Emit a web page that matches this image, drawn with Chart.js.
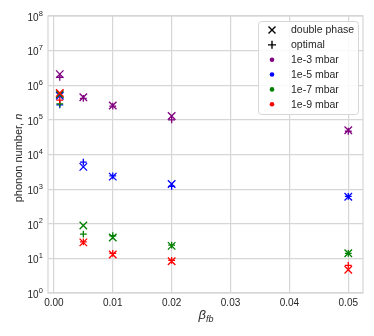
<!DOCTYPE html>
<html>
<head>
<meta charset="utf-8">
<script src="https://cdn.jsdelivr.net/npm/chart.js@4/dist/chart.umd.min.js"></script>
<style>
  html, body { margin: 0; padding: 0; background: #fff; }
  #wrap { width: 374px; height: 336px; }
</style>
</head>
<body>
<div id="wrap"><canvas id="chart" width="374" height="336"></canvas></div>
<script>
// feedback gain values on the x axis
const betas = [0.001, 0.005, 0.01, 0.02, 0.05];

// pressures and their colours
const pressures = ["1e-3 mbar", "1e-5 mbar", "1e-7 mbar", "1e-9 mbar"];
const colors = ["#800080", "#0000ff", "#008000", "#ff0000"];

// phonon numbers, "double phase" (x) and "optimal" (+)
const dp1e3 = [2.1e6, 4.5e5, 2.6e5, 1.3e5, 5.0e4];
const opt1e3 = [1.7e6, 4.2e5, 2.5e5, 1.0e5, 4.7e4];
const dp1e5 = [5.0e5, 4.4e3, 2.3e3, 1.4e3, 600];
const opt1e5 = [2.7e5, 6.0e3, 2.4e3, 1.2e3, 620];
const dp1e7 = [5.5e5, 89, 40, 23, 14];
const opt1e7 = [2.9e5, 50, 45, 24, 14];
const dp1e9 = [6.0e5, 29, 13, 8.3, 4.7];
const opt1e9 = [3.7e5, 30, 14, 8.7, 6.3];

const xTicks = [0, 0.01, 0.02, 0.03, 0.04, 0.05];
const yTicks = [1, 10, 1e2, 1e3, 1e4, 1e5, 1e6, 1e7, 1e8];
const markerLabels = ["double phase", "optimal"];

const FONT = "'Liberation Sans', Arial, sans-serif";
const TEXT = "#262626";
const GRID = "#d6d6d6";

const series = [
  [dp1e3, opt1e3],
  [dp1e5, opt1e5],
  [dp1e7, opt1e7],
  [dp1e9, opt1e9],
];

const datasets = [];
series.forEach(function (pair, i) {
  pair.forEach(function (vals, k) {
    datasets.push({
      label: pressures[i] + " " + markerLabels[k],
      data: betas.map((b, j) => ({ x: b, y: vals[j] })),
      pointStyle: k === 0 ? "crossRot" : "cross",
      pointRadius: k === 0 ? 5.3 : 3.4,
      pointHoverRadius: k === 0 ? 5.3 : 3.4,
      borderColor: colors[i],
      backgroundColor: colors[i],
      pointBorderWidth: 1.3,
      showLine: false,
      order: 10 - i * 2 - k,
    });
  });
});

// plot border, y tick labels, axis titles and the legend inside the plot
const decorPlugin = {
  id: "decor",
  beforeDatasetsDraw(chart) {
    const a = chart.chartArea;
    const ctx = chart.ctx;
    ctx.save();
    ctx.strokeStyle = GRID;
    ctx.lineWidth = 1.2;
    ctx.strokeRect(a.left, a.top, a.right - a.left, a.bottom - a.top);
    ctx.restore();
  },
  afterDraw(chart) {
    const ctx = chart.ctx;
    const ys = chart.scales.y;
    ctx.save();
    ctx.fillStyle = TEXT;

    // y tick labels as 10 with a raised exponent
    ctx.textBaseline = "middle";
    yTicks.forEach(function (v) {
      const py = ys.getPixelForValue(v);
      ctx.font = "10px " + FONT;
      ctx.textAlign = "right";
      ctx.fillText("10", 38.5, py + 2);
      ctx.font = "7.5px " + FONT;
      ctx.textAlign = "left";
      ctx.fillText(String(Math.round(Math.log10(v))), 38.8, py - 2.5);
    });

    // x title: beta_fb
    ctx.textBaseline = "alphabetic";
    ctx.textAlign = "left";
    ctx.font = "italic 13px " + FONT;
    const bw = ctx.measureText("\u03b2").width;
    ctx.font = "italic 9px " + FONT;
    const sw = ctx.measureText("fb").width;
    const x0 = 206 - (bw + sw) / 2;
    ctx.font = "italic 13px " + FONT;
    ctx.fillText("\u03b2", x0, 319);
    ctx.font = "italic 9px " + FONT;
    ctx.fillText("fb", x0 + bw, 322);

    // y title
    ctx.translate(22, 158);
    ctx.rotate(-Math.PI / 2);
    ctx.font = "11px " + FONT;
    const t1 = "phonon number, ";
    const w1 = ctx.measureText(t1).width;
    ctx.font = "italic 11px " + FONT;
    const w2 = ctx.measureText("n").width;
    ctx.font = "11px " + FONT;
    ctx.fillText(t1, -(w1 + w2) / 2, 0);
    ctx.font = "italic 11px " + FONT;
    ctx.fillText("n", -(w1 + w2) / 2 + w1, 0);
    ctx.restore();

    // legend
    ctx.save();
    const lx = 258, ly = 21, lw = 100, lh = 93;
    ctx.fillStyle = "rgba(255,255,255,0.85)";
    ctx.strokeStyle = GRID;
    ctx.lineWidth = 1;
    ctx.beginPath();
    ctx.roundRect(lx + 0.5, ly + 0.5, lw, lh, 3);
    ctx.fill();
    ctx.stroke();
    const items = markerLabels.concat(pressures);
    ctx.font = "10.5px " + FONT;
    ctx.textBaseline = "middle";
    ctx.textAlign = "left";
    items.forEach(function (txt, i) {
      const cy = 30 + i * 14.85;
      const mx = 272;
      if (i < 2) {
        ctx.strokeStyle = "#000";
        ctx.lineWidth = 1.4;
        ctx.beginPath();
        if (i === 0) {
          ctx.moveTo(mx - 3.5, cy - 3.5); ctx.lineTo(mx + 3.5, cy + 3.5);
          ctx.moveTo(mx - 3.5, cy + 3.5); ctx.lineTo(mx + 3.5, cy - 3.5);
        } else {
          ctx.moveTo(mx - 4, cy); ctx.lineTo(mx + 4, cy);
          ctx.moveTo(mx, cy - 4); ctx.lineTo(mx, cy + 4);
        }
        ctx.stroke();
      } else {
        ctx.fillStyle = colors[i - 2];
        ctx.beginPath();
        ctx.arc(mx, cy, 2.3, 0, Math.PI * 2);
        ctx.fill();
      }
      ctx.fillStyle = TEXT;
      ctx.fillText(txt, 291, cy + 0.5);
    });
    ctx.restore();
  },
};

new Chart(document.getElementById("chart"), {
  type: "scatter",
  data: { datasets: datasets },
  plugins: [decorPlugin],
  options: {
    responsive: false,
    animation: false,
    devicePixelRatio: 1,
    layout: { padding: { left: 0, right: 11, top: 16, bottom: 0 } },
    plugins: {
      legend: { display: false },
      tooltip: { enabled: false },
    },
    scales: {
      x: {
        type: "linear",
        min: -0.001,
        max: 0.0525,
        afterBuildTicks: (s) => { s.ticks = xTicks.map((v) => ({ value: v })); },
        afterFit: (s) => { s.height = 43; },
        grid: { color: GRID, lineWidth: 1.2, drawTicks: false },
        border: { display: false },
        ticks: {
          color: TEXT,
          font: { family: FONT, size: 10 },
          padding: 4,
          maxRotation: 0,
          callback: (v) => Number(v).toFixed(2),
        },
      },
      y: {
        type: "logarithmic",
        min: 1,
        max: 1e8,
        afterBuildTicks: (s) => { s.ticks = yTicks.map((v) => ({ value: v })); },
        afterFit: (s) => { s.width = 48; },
        grid: { color: GRID, lineWidth: 1.2, drawTicks: false },
        border: { display: false },
        ticks: {
          font: { family: FONT, size: 10 },
          callback: () => "",
        },
      },
    },
  },
});
</script>
</body>
</html>
